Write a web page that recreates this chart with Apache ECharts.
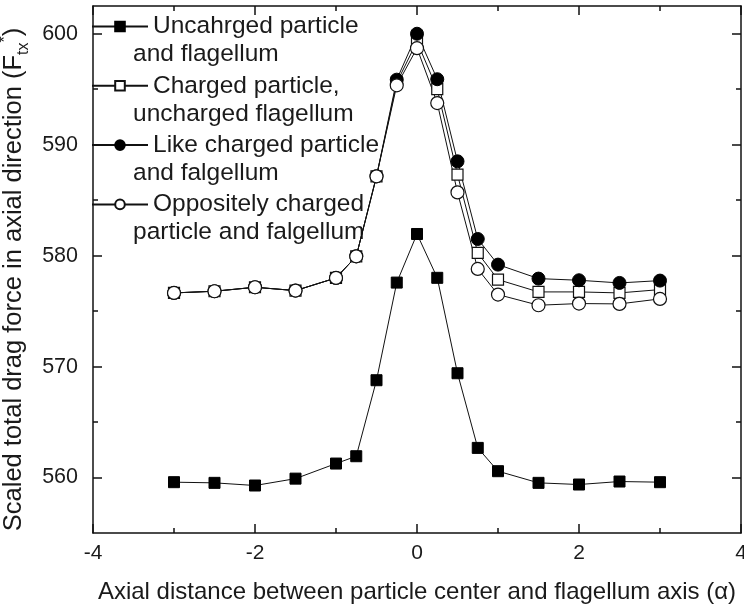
<!DOCTYPE html>
<html>
<head>
<meta charset="utf-8">
<script src="https://cdn.jsdelivr.net/npm/echarts@6/dist/echarts.min.js"></script>
<style>
html,body{margin:0;padding:0;background:#fff;}
#chart{width:744px;height:608px;}
</style>
</head>
<body>
<div id="chart"></div>
<script>
const xValues = [-3, -2.5, -2, -1.5, -1, -0.75, -0.5, -0.25, 0, 0.25, 0.5, 0.75, 1, 1.5, 2, 2.5, 3];
const unchargedBoth = [559.58, 559.52, 559.28, 559.9, 561.26, 561.92, 568.77, 577.57, 581.95, 578.0, 569.4, 562.67, 560.57, 559.52, 559.37, 559.64, 559.58];
const chargedParticle = [576.64, 576.79, 577.15, 576.85, 577.99, 579.94, 587.15, 595.6, 599.3, 595.0, 587.3, 580.24, 577.84, 576.73, 576.73, 576.64, 576.94];
const likeCharged = [576.64, 576.79, 577.15, 576.85, 577.99, 579.94, 587.15, 595.86, 600.0, 595.9, 588.5, 581.5, 579.19, 577.93, 577.78, 577.54, 577.75];
const oppositelyCharged = [576.64, 576.79, 577.15, 576.85, 577.99, 579.94, 587.15, 595.35, 598.7, 593.75, 585.7, 578.8, 576.49, 575.53, 575.68, 575.65, 576.1];

const seriesNames = [
  'Uncahrged particle and flagellum',
  'Charged particle, uncharged flagellum',
  'Like charged particle and falgellum',
  'Oppositely charged particle and falgellum'
];
const legendFirstLines = ['Uncahrged particle', 'Charged particle,', 'Like charged particle', 'Oppositely charged'];
const legendSecondLines = ['and flagellum', 'uncharged flagellum', 'and falgellum', 'particle and falgellum'];

const yMajorTicks = [560, 570, 580, 590, 600];
const yMinorTicks = [565, 575, 585, 595];

const FONT = 'Liberation Sans, Arial, sans-serif';
const TXT = '#1a1a1a';

function pairs(vals) { return xValues.map((x, i) => [x, vals[i]]); }

const chart = echarts.init(document.getElementById('chart'), null, {renderer: 'canvas'});

const yBase = {type: 'value', min: 555, max: 602.5, splitLine: {show: false}};
const xBase = {type: 'value', min: -4, max: 4, interval: 2, splitLine: {show: false}};
const lineAx = {show: true, onZero: false, lineStyle: {color: '#111', width: 1.5}};
const noLine = {show: false, onZero: false};

const legendMap = {};
seriesNames.forEach((n, i) => legendMap[n] = legendFirstLines[i]);

const option = {
  animation: false,
  backgroundColor: '#fff',
  grid: {left: 93, right: 3, top: 6, bottom: 75, containLabel: false, outerBoundsMode: 'none'},
  xAxis: [
    Object.assign({}, xBase, {
      position: 'bottom',
      axisLine: lineAx,
      axisTick: {inside: true, length: 9, lineStyle: {color: '#111', width: 1.5}},
      minorTick: {show: true, splitNumber: 2, length: 5, lineStyle: {color: '#111', width: 1.5}},
      axisLabel: {fontSize: 21, color: TXT, fontFamily: FONT, margin: 10, showMinLabel: true, showMaxLabel: true, hideOverlap: false},
      name: 'Axial distance between particle center and flagellum axis (\u03b1)',
      nameLocation: 'middle', nameGap: 47,
      nameTextStyle: {fontSize: 24, color: TXT, fontFamily: FONT}
    }),
    Object.assign({}, xBase, {
      position: 'top',
      axisLine: lineAx,
      axisTick: {inside: true, length: 9, lineStyle: {color: '#111', width: 1.5}},
      minorTick: {show: true, splitNumber: 2, length: 5, lineStyle: {color: '#111', width: 1.5}},
      axisLabel: {show: false}
    })
  ],
  yAxis: [
    Object.assign({}, yBase, {
      position: 'left',
      axisLine: lineAx,
      axisTick: {inside: true, length: 9, customValues: yMajorTicks, lineStyle: {color: '#111', width: 1.5}},
      axisLabel: {customValues: yMajorTicks, fontSize: 21.5, color: TXT, fontFamily: FONT, margin: 15},
      name: 'Scaled total drag force in axial direction (F{sub|tx}{sup|*})',
      nameLocation: 'middle', nameRotate: 90, nameGap: 53,
      nameTextStyle: {
        fontSize: 25.5, color: TXT, fontFamily: FONT, lineHeight: 34, verticalAlign: 'middle',
        padding: [0, 20, 0, 0],
        rich: {
          sub: {fontSize: 16, color: TXT, fontFamily: FONT, lineHeight: 16, verticalAlign: 'bottom'},
          sup: {fontSize: 16, color: TXT, fontFamily: FONT, lineHeight: 16, verticalAlign: 'top'}
        }
      }
    }),
    Object.assign({}, yBase, {
      position: 'left',
      axisLine: noLine,
      axisTick: {inside: true, length: 5, customValues: yMinorTicks, lineStyle: {color: '#111', width: 1.5}},
      axisLabel: {show: false}
    }),
    Object.assign({}, yBase, {
      position: 'right',
      axisLine: lineAx,
      axisTick: {inside: true, length: 9, customValues: yMajorTicks, lineStyle: {color: '#111', width: 1.5}},
      axisLabel: {show: false}
    }),
    Object.assign({}, yBase, {
      position: 'right',
      axisLine: noLine,
      axisTick: {inside: true, length: 5, customValues: yMinorTicks, lineStyle: {color: '#111', width: 1.5}},
      axisLabel: {show: false}
    })
  ],
  legend: {
    orient: 'vertical',
    left: 91, top: 14,
    itemWidth: 56, itemHeight: 12, itemGap: 34.3,
    padding: 0,
    data: seriesNames,
    formatter: n => legendMap[n],
    textStyle: {fontSize: 24.5, color: TXT, fontFamily: FONT, lineHeight: 25, padding: [0, 0, 0, 0]},
    selectedMode: false
  },
  graphic: legendSecondLines.map((t, i) => ({
    type: 'text', left: 133, top: 42 + i * 59.3,
    style: {text: t, fontSize: 24.5, fill: TXT, fontFamily: FONT}
  })),
  series: [
    {
      name: seriesNames[0], type: 'line', data: pairs(unchargedBoth),
      symbol: 'rect', symbolSize: 11,
      itemStyle: {color: '#000', borderColor: '#000', borderWidth: 1},
      lineStyle: {color: '#111', width: 1}
    },
    {
      name: seriesNames[1], type: 'line', data: pairs(chargedParticle),
      symbol: 'rect', symbolSize: 11,
      itemStyle: {color: '#fff', borderColor: '#111', borderWidth: 1.2},
      lineStyle: {color: '#111', width: 1}
    },
    {
      name: seriesNames[2], type: 'line', data: pairs(likeCharged),
      symbol: 'circle', symbolSize: 13,
      itemStyle: {color: '#000', borderColor: '#000', borderWidth: 1},
      lineStyle: {color: '#111', width: 1}
    },
    {
      name: seriesNames[3], type: 'line', data: pairs(oppositelyCharged),
      symbol: 'circle', symbolSize: 13,
      itemStyle: {color: '#fff', borderColor: '#111', borderWidth: 1.2},
      lineStyle: {color: '#111', width: 1}
    }
  ]
};
chart.setOption(option);
</script>
</body>
</html>
